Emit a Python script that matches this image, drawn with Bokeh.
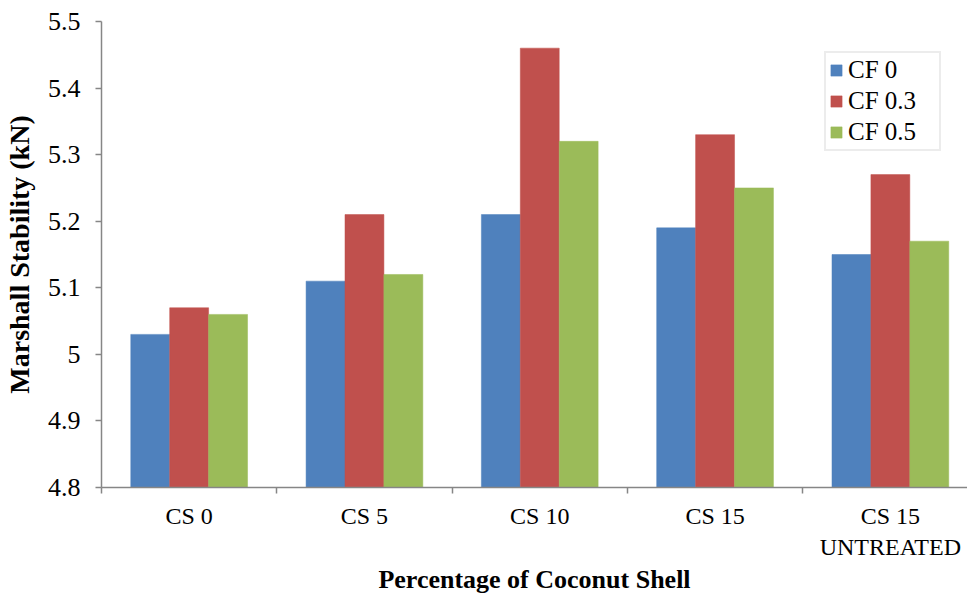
from bokeh.plotting import figure
from bokeh.models import Range1d, FixedTicker, Legend
from bokeh.embed import file_html
from bokeh.resources import INLINE

categories = ["CS 0", "CS 5", "CS 10", "CS 15", "CS 15\nUNTREATED"]
series_names = ["CF 0", "CF 0.3", "CF 0.5"]
cf0 = [5.03, 5.11, 5.21, 5.19, 5.15]
cf03 = [5.07, 5.21, 5.46, 5.33, 5.27]
cf05 = [5.06, 5.12, 5.32, 5.25, 5.17]
y_ticks = [4.8, 4.9, 5.0, 5.1, 5.2, 5.3, 5.4, 5.5]
y_tick_labels = ["4.8", "4.9", "5", "5.1", "5.2", "5.3", "5.4", "5.5"]
colors = ["#4F81BD", "#C0504D", "#9BBB59"]

FONT = "Liberation Serif"
AXIS_COL = "#868686"

p = figure(width=967, height=596, output_backend="svg", toolbar_location=None,
           x_range=Range1d(0, 4.94), y_range=Range1d(4.8, 5.5))
p.min_border_left = 100
p.min_border_right = 0
p.min_border_top = 21
p.min_border_bottom = 108
p.outline_line_color = None
p.xgrid.visible = False
p.ygrid.visible = False
p.background_fill_color = "white"

bw = 0.222
centers = [i + 0.5 for i in range(len(categories))]
renderers = []
for k, (vals, name, col) in enumerate(zip([cf0, cf03, cf05], series_names, colors)):
    xs = [c + (k - 1) * bw for c in centers]
    r = p.vbar(x=xs, top=vals, bottom=4.8, width=bw, fill_color=col,
               line_color=col, line_width=0.5)
    renderers.append((name, [r]))

# x axis
p.xaxis.ticker = FixedTicker(ticks=centers, minor_ticks=list(range(len(categories) + 1)))
p.xaxis.major_label_overrides = {c: lab for c, lab in zip(centers, categories)}
p.xaxis.major_tick_out = 0
p.xaxis.major_tick_in = 0
p.xaxis.minor_tick_out = 6
p.xaxis.minor_tick_in = 0
p.xaxis.minor_tick_line_color = AXIS_COL
p.xaxis.minor_tick_line_width = 1.5
p.xaxis.axis_line_color = AXIS_COL
p.xaxis.axis_line_width = 1.5
p.xaxis.major_label_text_font = FONT
p.xaxis.major_label_text_font_size = "24px"
p.xaxis.major_label_text_color = "black"
p.xaxis.major_label_standoff = 9
p.xaxis.axis_label = "Percentage of Coconut Shell"
p.xaxis.axis_label_text_font = FONT
p.xaxis.axis_label_text_font_style = "bold"
p.xaxis.axis_label_text_font_size = "26px"
p.xaxis.axis_label_text_color = "black"
p.xaxis.axis_label_standoff = 2

# y axis
p.yaxis.ticker = FixedTicker(ticks=y_ticks, minor_ticks=[])
p.yaxis.major_label_overrides = {t: lab for t, lab in zip(y_ticks, y_tick_labels)}
p.yaxis.major_tick_out = 6
p.yaxis.major_tick_in = 0
p.yaxis.major_tick_line_color = AXIS_COL
p.yaxis.major_tick_line_width = 1.5
p.yaxis.axis_line_color = AXIS_COL
p.yaxis.axis_line_width = 1.5
p.yaxis.major_label_text_font = FONT
p.yaxis.major_label_text_font_size = "26px"
p.yaxis.major_label_text_color = "black"
p.yaxis.major_label_standoff = 15
p.yaxis.axis_label = "Marshall Stability (kN)"
p.yaxis.axis_label_text_font = FONT
p.yaxis.axis_label_text_font_style = "bold"
p.yaxis.axis_label_text_font_size = "28px"
p.yaxis.axis_label_text_color = "black"
p.yaxis.axis_label_standoff = 10

legend = Legend(items=renderers, location=(723, 336))
legend.label_text_font = FONT
legend.label_text_font_size = "25px"
legend.label_text_color = "black"
legend.glyph_width = 14
legend.glyph_height = 14
legend.label_standoff = 5
legend.label_width = 88
legend.padding = 3
legend.spacing = 3
legend.margin = 0
legend.border_line_color = "#D9D9D9"
legend.border_line_width = 2
legend.background_fill_color = "white"
legend.background_fill_alpha = 1
p.add_layout(legend)

open("out.html", "w").write(file_html(p, INLINE))
